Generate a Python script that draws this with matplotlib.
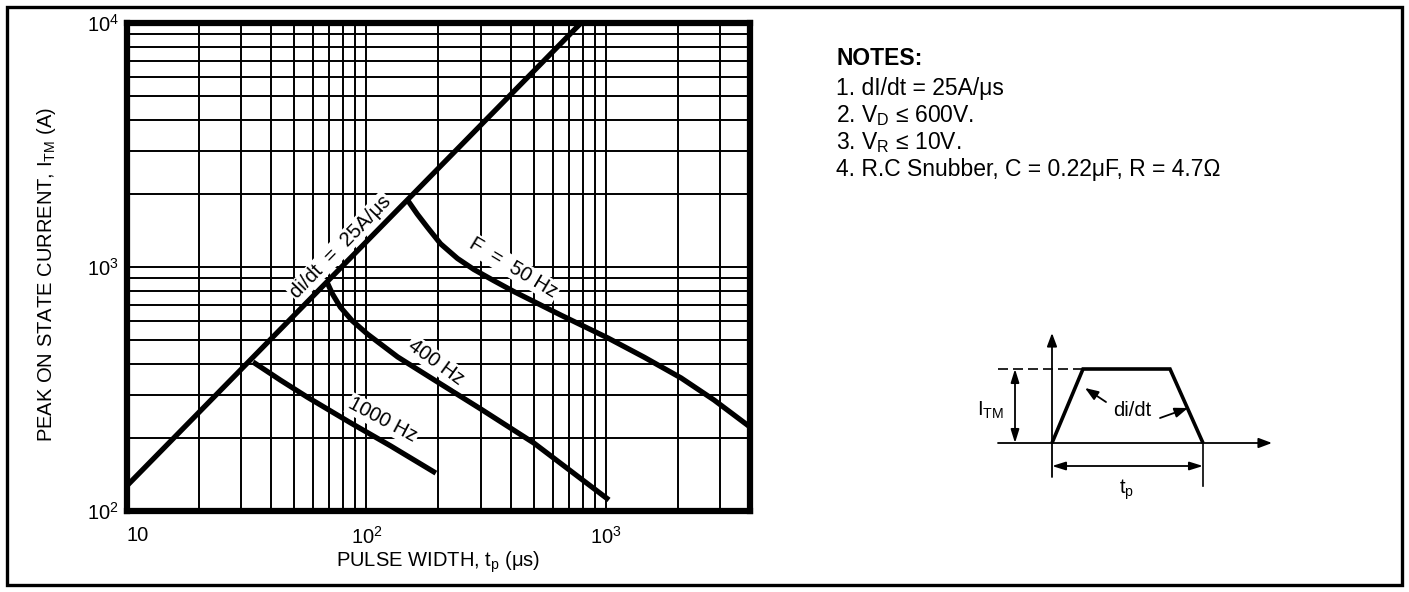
import matplotlib
matplotlib.use("Agg")
import matplotlib.pyplot as plt
from matplotlib.patches import Rectangle, Polygon
from matplotlib.ticker import LogLocator, NullFormatter

plt.rcParams["font.family"] = ["Liberation Sans", "DejaVu Sans"]
plt.rcParams["mathtext.fontset"] = "custom"
plt.rcParams["mathtext.rm"] = "Liberation Sans"
plt.rcParams["mathtext.it"] = "Liberation Sans"
plt.rcParams["mathtext.default"] = "regular"

# di/dt = 25 A/us limit line
didt_tp = [10, 787]
didt_itm = [127, 10000]

# frequency curves, pulse width (us) vs peak on-state current (A)
f50_tp = [149, 163, 180, 204, 240, 281, 339, 412, 649, 1019, 1445, 2061, 2831, 4000]
f50_itm = [1871, 1648, 1452, 1245, 1084, 977, 881, 794, 635, 512, 427, 351, 285, 221]

f400_tp = [68.7, 72.1, 77.8, 87.1, 101, 135, 198, 300, 500, 1030]
f400_itm = [860, 776, 685, 603, 531, 428, 338, 262, 190, 111]

f1000_tp = [33.6, 43.7, 56.6, 85.7, 126, 195]
f1000_itm = [408, 344, 293, 230, 185, 143]

x_ticks = [10, 100, 1000]
x_ticklabels = ["10", "10$^2$", "10$^3$"]
y_ticks = [100, 1000, 10000]
y_ticklabels = ["10$^2$", "10$^3$", "10$^4$"]

notes = [
    "1. dI/dt = 25A/\u03bcs",
    "2. V$_\\mathregular{D}$ \u2264 600V.",
    "3. V$_\\mathregular{R}$ \u2264 10V.",
    "4. R.C Snubber, C = 0.22\u03bcF, R = 4.7\u03a9",
]

W, H = 1409, 592
fig = plt.figure(figsize=(W / 100, H / 100), dpi=100)

# ---- main log-log chart ----
ax = fig.add_axes([127 / W, 1 - 511 / H, (750 - 127) / W, (511 - 23) / H])
ax.set_xscale("log")
ax.set_yscale("log")
ax.set_xlim(10, 4000)
ax.set_ylim(100, 10000)
ax.xaxis.set_minor_locator(LogLocator(base=10, subs=range(2, 10)))
ax.yaxis.set_minor_locator(LogLocator(base=10, subs=range(2, 10)))
ax.xaxis.set_minor_formatter(NullFormatter())
ax.yaxis.set_minor_formatter(NullFormatter())
ax.grid(which="both", color="black", linewidth=1.4)
ax.set_axisbelow(True)
for s in ax.spines.values():
    s.set_linewidth(4.5)
ax.tick_params(which="both", length=0)
ax.set_xticks(x_ticks, x_ticklabels, fontsize=14.5)
ax.set_yticks(y_ticks, y_ticklabels, fontsize=14.5)
ax.tick_params(axis="x", pad=11)
ax.tick_params(axis="y", pad=6)
ax.get_xticklabels()[0].set_horizontalalignment("left")

curve_kw = dict(color="black", linewidth=3.8, solid_capstyle="butt",
                solid_joinstyle="round")
ax.plot(didt_tp, didt_itm, **curve_kw)
ax.plot(f50_tp, f50_itm, **curve_kw)
ax.plot(f400_tp, f400_itm, **curve_kw)
ax.plot(f1000_tp, f1000_itm, **curve_kw)

lbl_box = dict(facecolor="white", edgecolor="none", pad=1.0)
ax.text(77.8, 1208, "di/dt  =  25A/\u03bcs", rotation=45.6, fontsize=14.5,
        ha="center", va="center", rotation_mode="anchor", bbox=lbl_box)
ax.text(412, 990, "F  =  50 Hz", rotation=-31, fontsize=14.5,
        ha="center", va="center", rotation_mode="anchor", bbox=lbl_box)
ax.text(195, 408, "400 Hz", rotation=-36, fontsize=14.5,
        ha="center", va="center", rotation_mode="anchor", bbox=lbl_box)
ax.text(117, 236, "1000 Hz", rotation=-28, fontsize=14.5,
        ha="center", va="center", rotation_mode="anchor", bbox=lbl_box)

ax.set_xlabel("PULSE WIDTH, t$_p$ (\u03bcs)", fontsize=14.5, labelpad=1)
fig.text(47 / W, 1 - 275 / H, "PEAK ON STATE CURRENT, I$_{TM}$ (A)",
         fontsize=14.5, rotation=90, ha="center", va="center")

# ---- overlay in pixel coordinates: frame, notes, waveform sketch ----
ov = fig.add_axes([0, 0, 1, 1], facecolor="none")
ov.set_xlim(0, W)
ov.set_ylim(H, 0)
ov.axis("off")
ov.add_patch(Rectangle((7, 7), W - 14, H - 14, fill=False,
                       edgecolor="black", linewidth=2.4))

ov.text(836, 65, "NOTES:", fontsize=16.5, fontweight="bold", va="baseline")
for i, line in enumerate(notes):
    ov.text(836, 95 + 27 * i, line, fontsize=16.5, va="baseline")

arrow = dict(arrowstyle="-|>,head_length=0.8,head_width=0.3",
             color="black", linewidth=1.3, shrinkA=0, shrinkB=0)
darrow = dict(arrowstyle="<|-|>,head_length=0.8,head_width=0.25",
              color="black", linewidth=1.3, shrinkA=0, shrinkB=0)
# axes of the sketch
ov.annotate("", xy=(1052, 333), xytext=(1052, 477), arrowprops=arrow)
ov.annotate("", xy=(1272, 443), xytext=(998, 443), arrowprops=arrow)
# pulse shape
ov.add_patch(Polygon([(1052, 443), (1083, 369), (1170, 369), (1203, 443)],
                     closed=False, fill=False, edgecolor="black",
                     linewidth=2.6, joinstyle="miter"))
ov.plot([998, 1083], [369, 369], color="black", linewidth=1.2,
        dashes=(6, 3))
ov.plot([1203, 1203], [443, 486], color="black", linewidth=1.2)
# dimensions
ov.annotate("", xy=(1015, 369), xytext=(1015, 443), arrowprops=darrow)
ov.annotate("", xy=(1203, 466), xytext=(1052, 466), arrowprops=darrow)
ov.annotate("", xy=(1085, 388), xytext=(1106, 402), arrowprops=arrow)
ov.annotate("", xy=(1188, 408), xytext=(1160, 418), arrowprops=arrow)
ov.text(990, 410, "I$_{TM}$", fontsize=14.5, ha="center", va="center")
ov.text(1132, 410, "di/dt", fontsize=14.5, ha="center", va="center")
ov.text(1127, 490, "t$_p$", fontsize=14.5, ha="center", va="center")

fig.savefig("out.png", dpi=100)
